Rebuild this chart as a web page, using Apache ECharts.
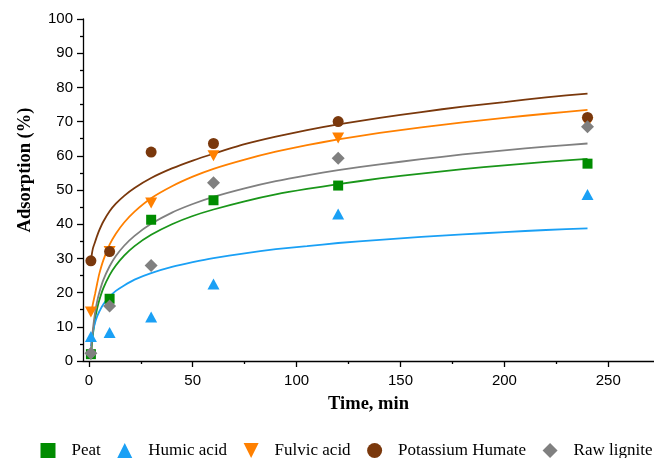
<!DOCTYPE html>
<html>
<head>
<meta charset="utf-8">
<script src="https://cdn.jsdelivr.net/npm/echarts@6/dist/echarts.min.js"></script>
<style>html,body{margin:0;padding:0;background:#fff}#chart{width:654px;height:458px}</style>
</head>
<body>
<div id="chart"></div>
<script>
// Measured points
const timeMin = [1, 10, 30, 60, 120, 240];
const peat = [2.0, 18.2, 41.3, 47.0, 51.3, 57.7];
const humic = [7.2, 8.3, 12.9, 22.5, 43.0, 48.7];
const fulvic = [14.3, 32.0, 46.2, 60.0, 65.2, 69.7];
const potassium = [29.3, 32.0, 61.1, 63.6, 70.0, 71.2];
const lignite = [2.3, 16.1, 27.9, 52.1, 59.3, 68.5];

// Fitted curves
const fitX = [1, 1.5, 2, 3, 4, 5, 7, 10, 13, 17, 22, 30, 40, 50, 60, 75, 90, 105, 120, 140, 160, 180, 200, 220, 240];
const peatFit = [0.5, 4.8, 7.9, 12.3, 15.3, 17.7, 21.3, 25.1, 27.9, 30.8, 33.6, 36.9, 40.0, 42.4, 44.3, 46.7, 48.7, 50.3, 51.7, 53.4, 54.8, 56.1, 57.2, 58.2, 59.1];
const humicFit = [4.3, 6.9, 8.7, 11.2, 13.0, 14.4, 16.6, 18.8, 20.5, 22.1, 23.8, 25.7, 27.5, 28.9, 30.1, 31.5, 32.7, 33.6, 34.5, 35.4, 36.3, 37.0, 37.7, 38.3, 38.8];
const fulvicFit = [14.0, 15.2, 16.8, 19.6, 22.6, 25.4, 29.5, 34.0, 37.2, 40.5, 43.7, 47.6, 51.1, 53.9, 56.2, 58.9, 61.2, 63.1, 64.8, 66.7, 68.3, 69.8, 71.1, 72.3, 73.4];
const potassiumFit = [29.5, 31.4, 33.0, 34.8, 36.6, 38.2, 40.8, 43.8, 46.0, 48.3, 50.6, 53.5, 56.3, 58.6, 60.6, 63.4, 65.6, 67.5, 69.2, 71.1, 72.8, 74.4, 75.7, 77.1, 78.2];
const ligniteFit = [1.7, 6.3, 9.5, 14.1, 17.4, 19.9, 23.7, 27.7, 30.7, 33.7, 36.6, 40.1, 43.4, 45.9, 48.0, 50.5, 52.6, 54.3, 55.8, 57.5, 59.0, 60.4, 61.6, 62.7, 63.6];

const seriesNames = ['Peat', 'Humic acid', 'Fulvic acid', 'Potassium Humate', 'Raw lignite'];
const xMajor = [0, 50, 100, 150, 200, 250];
const xMinor = [25, 75, 125, 175, 225];

const colors = ['#008C00', '#1AA0F5', '#FF8000', '#7A380C', '#808080'];
const lineColors = ['#1A961A', '#1AA0F5', '#FF8000', '#7A380C', '#808080'];
const symbols = ['rect', 'triangle', 'triangle', 'circle', 'diamond'];
const legendIcons = ['rect', 'triangle', 'path://M0,0L10,0L5,10Z', 'circle', 'diamond'];
const sizes = [[10, 10], [12, 11], [12, 11], [11, 11], [13, 13]];
const rotates = [0, 0, 180, 0, 0];
const pts = [peat, humic, fulvic, potassium, lignite];
const fits = [peatFit, humicFit, fulvicFit, potassiumFit, ligniteFit];

const zip = (xs, ys) => xs.map((x, i) => [x, ys[i]]);

const series = [];
fits.forEach((f, i) => {
  series.push({
    type: 'line', name: seriesNames[i] + ' fit', data: zip(fitX, f),
    showSymbol: false, symbol: 'none', smooth: 0.15,
    lineStyle: { color: lineColors[i], width: 1.8 }, z: 2, silent: true
  });
});
pts.forEach((p, i) => {
  series.push({
    type: 'scatter', name: seriesNames[i], data: zip(timeMin, p),
    symbol: symbols[i], symbolSize: sizes[i], symbolRotate: rotates[i],
    itemStyle: { color: colors[i], opacity: 1 }, z: 5
  });
});

const chart = echarts.init(document.getElementById('chart'), null, { renderer: 'canvas' });
chart.setOption({
  animation: false,
  backgroundColor: '#fff',
  grid: { left: 83, right: 0, top: 19, bottom: 97 },
  legend: {
    data: seriesNames.map((n, i) => ({ name: n, icon: legendIcons[i], symbolRotate: 0 })),
    symbolRotate: 0,
    left: 40.5, top: 442, width: 1200, padding: 0,
    itemWidth: 15, itemHeight: 15, itemGap: 16.5,
    textStyle: { fontFamily: 'Liberation Serif', fontSize: 17, color: '#000', padding: [0, 0, 0, 11] }
  },
  xAxis: [{
    type: 'value', min: -2.8, max: 272,
    name: 'Time, min', nameLocation: 'middle', nameGap: 34,
    nameTextStyle: { fontFamily: 'Liberation Serif', fontWeight: 'bold', fontSize: 18.5, color: '#000' },
    axisLine: { onZero: false, lineStyle: { color: '#000', width: 1.3 } },
    axisTick: { show: true, inside: false, length: 6, customValues: xMajor, lineStyle: { color: '#000', width: 1.3 } },
    axisLabel: { customValues: xMajor, margin: 12, fontFamily: 'Liberation Sans', fontSize: 15, color: '#000' },
    splitLine: { show: false }
  }, {
    type: 'value', min: -2.8, max: 272, position: 'bottom',
    axisLine: { show: false },
    axisTick: { show: true, inside: false, length: 3, customValues: xMinor, lineStyle: { color: '#000', width: 1.3 } },
    axisLabel: { show: false },
    splitLine: { show: false }
  }],
  yAxis: {
    type: 'value', min: 0, max: 100, interval: 10,
    name: 'Adsorption (%)', nameLocation: 'middle', nameGap: 48,
    nameTextStyle: { fontFamily: 'Liberation Serif', fontWeight: 'bold', fontSize: 18.5, color: '#000', padding: [0, 0, 0, 40] },
    axisLine: { show: true, onZero: false, lineStyle: { color: '#000', width: 1.3 } },
    axisTick: { show: true, inside: false, length: 6, lineStyle: { color: '#000', width: 1.3 } },
    minorTick: { show: true, splitNumber: 2, length: 3, lineStyle: { color: '#000', width: 1.3 } },
    axisLabel: { margin: 10, fontFamily: 'Liberation Sans', fontSize: 15, color: '#000' },
    splitLine: { show: false }
  },
  series: series
});
</script>
</body>
</html>
